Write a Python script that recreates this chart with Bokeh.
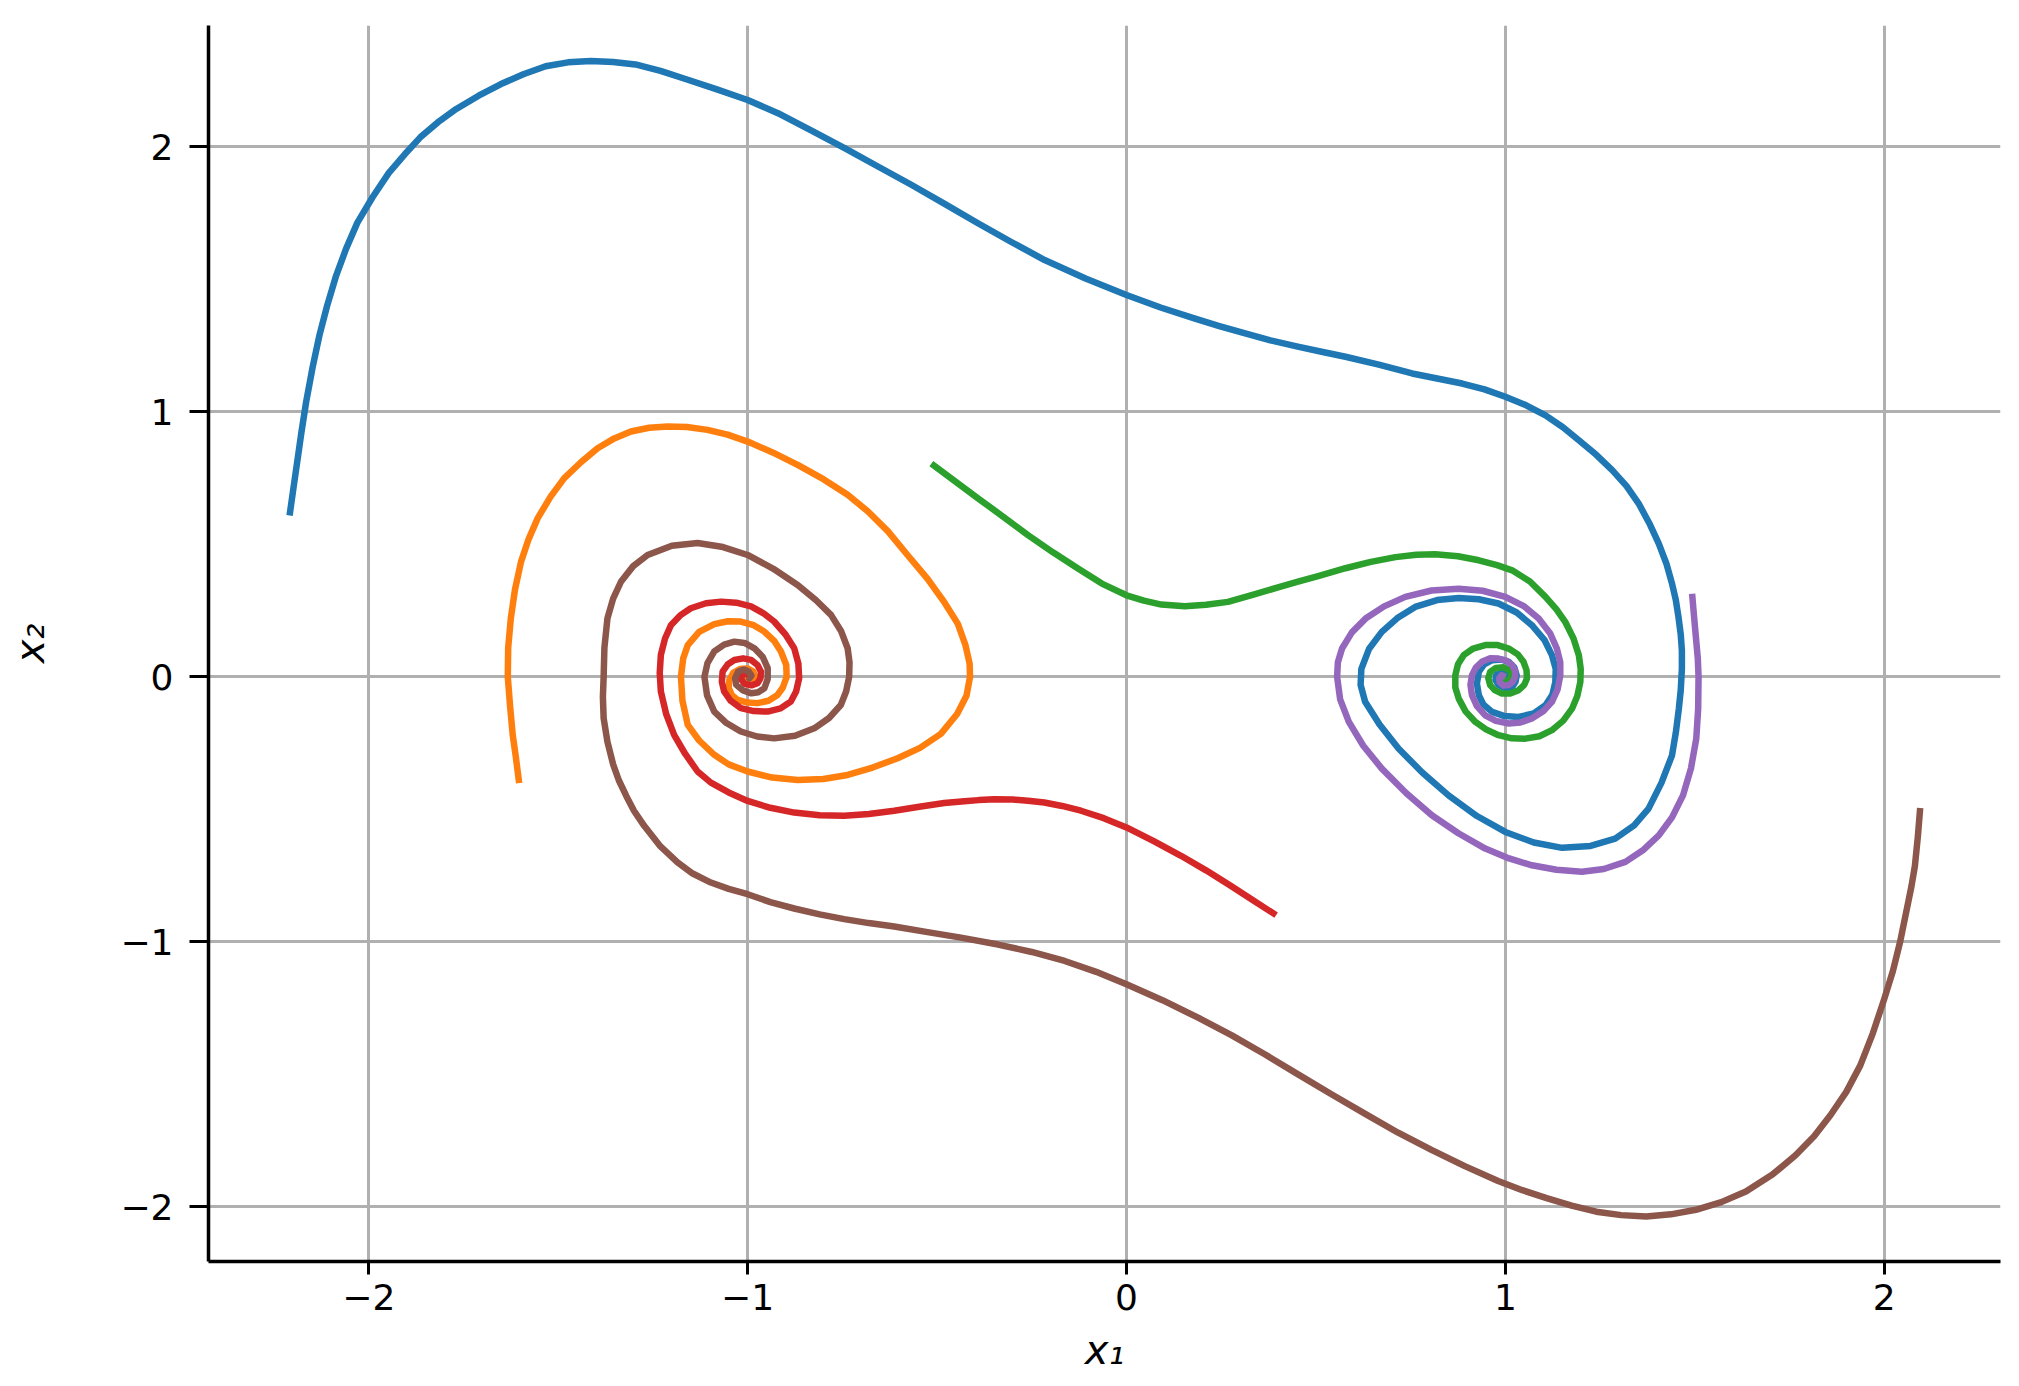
from bokeh.plotting import figure
from bokeh.models import Range1d, FixedTicker
from bokeh.embed import file_html
from bokeh.resources import INLINE

# ---- trajectories (x1, x2) ----
blue_x1 = [-2.209, -2.2, -2.19, -2.178, -2.165, -2.148, -2.13, -2.11, -2.087, -2.06, -2.03, -1.99, -1.947, -1.905,
           -1.864, -1.818, -1.769, -1.71, -1.651, -1.592, -1.533, -1.474, -1.414, -1.355, -1.296, -1.23, -1.166,
           -1.083, -1.0, -0.92, -0.83, -0.744, -0.656, -0.568, -0.48, -0.392, -0.304, -0.216, -0.108, 0.0, 0.09,
           0.179, 0.245, 0.311, 0.38, 0.452, 0.515, 0.578, 0.666, 0.754, 0.82, 0.886, 0.945, 1.0, 1.055, 1.106,
           1.152, 1.194, 1.24, 1.282, 1.32, 1.352, 1.38, 1.405, 1.425, 1.44, 1.45, 1.457, 1.463, 1.466, 1.466,
           1.463, 1.458, 1.45, 1.44, 1.412, 1.378, 1.34, 1.29, 1.225, 1.15, 1.075, 1.0, 0.925, 0.85, 0.78, 0.718,
           0.668, 0.63, 0.618, 0.62, 0.64, 0.674, 0.715, 0.762, 0.82, 0.877, 0.93, 0.982, 1.03, 1.07, 1.103, 1.123,
           1.133, 1.132, 1.124, 1.106, 1.075, 1.035, 0.998, 0.965, 0.942, 0.93, 0.925, 0.93, 0.944, 0.965, 0.988,
           1.009, 1.024, 1.03, 1.027, 1.018, 1.0, 0.982, 0.974, 0.976, 0.996, 1.006, 1.004]
blue_x2 = [0.609, 0.70, 0.80, 0.92, 1.04, 1.17, 1.29, 1.40, 1.51, 1.615, 1.714, 1.81, 1.902, 1.972,
           2.036, 2.092, 2.143, 2.193, 2.237, 2.274, 2.304, 2.319, 2.324, 2.32, 2.311, 2.287, 2.257,
           2.218, 2.177, 2.127, 2.06, 1.995, 1.926, 1.857, 1.785, 1.712, 1.641, 1.573, 1.503, 1.441, 1.394,
           1.353, 1.324, 1.297, 1.27, 1.246, 1.227, 1.208, 1.178, 1.145, 1.126, 1.107, 1.085, 1.057, 1.025, 0.987,
           0.942, 0.893, 0.838, 0.78, 0.72, 0.654, 0.58, 0.503, 0.428, 0.352, 0.29, 0.226, 0.16, 0.1, 0.03,
           -0.05, -0.12, -0.21, -0.296, -0.40, -0.497, -0.56, -0.61, -0.638, -0.645, -0.625, -0.585, -0.525, -0.447,
           -0.36, -0.27, -0.18, -0.094, -0.03, 0.03, 0.105, 0.17, 0.222, 0.264, 0.29, 0.298, 0.293, 0.277, 0.243,
           0.195, 0.14, 0.082, 0.03, -0.019, -0.068, -0.107, -0.138, -0.151, -0.148, -0.132, -0.104, -0.069, -0.025,
           0.019, 0.047, 0.063, 0.066, 0.057, 0.035, 0.006, -0.018, -0.038, -0.043, -0.031, -0.012, 0.008, 0.019,
           0.01, 0.0]

orange_x1 = [-1.603, -1.612, -1.62, -1.627, -1.633, -1.632, -1.625, -1.614, -1.598, -1.578, -1.554, -1.52, -1.484,
             -1.44, -1.396, -1.352, -1.308, -1.26, -1.211, -1.16, -1.106, -1.053, -1.0, -0.934, -0.868, -0.8,
             -0.736, -0.683, -0.63, -0.578, -0.525, -0.48, -0.445, -0.425, -0.414, -0.413, -0.422, -0.447, -0.49,
             -0.545, -0.604, -0.67, -0.736, -0.80, -0.868, -0.935, -1.0, -1.05, -1.088, -1.128, -1.158, -1.172,
             -1.176, -1.17, -1.158, -1.128, -1.088, -1.052, -1.018, -0.984, -0.956, -0.93, -0.912, -0.898, -0.897,
             -0.907, -0.921, -0.945, -0.974, -1.0, -1.026, -1.042, -1.05, -1.048, -1.038, -1.02, -1.0, -0.985,
             -0.98, -0.99, -1.005, -1.01, -1.0]
orange_x2 = [-0.401, -0.30, -0.219, -0.11, 0.0, 0.11, 0.221, 0.33, 0.435, 0.52, 0.599, 0.68, 0.75,
             0.81, 0.863, 0.9, 0.926, 0.94, 0.945, 0.943, 0.932, 0.914, 0.888, 0.847, 0.8, 0.746,
             0.687, 0.625, 0.55, 0.46, 0.37, 0.28, 0.2, 0.12, 0.05, 0.0, -0.07, -0.14, -0.215,
             -0.268, -0.307, -0.342, -0.37, -0.385, -0.389, -0.38, -0.357, -0.33, -0.294, -0.24, -0.181, -0.09,
             0.0, 0.07, 0.12, 0.17, 0.199, 0.21, 0.209, 0.195, 0.171, 0.136, 0.096, 0.045, 0.0,
             -0.04, -0.068, -0.09, -0.099, -0.097, -0.087, -0.068, -0.04, -0.01, 0.015, 0.03, 0.032, 0.02,
             0.0, -0.015, -0.012, 0.0, 0.005]

green_x1 = [-0.515, -0.453, -0.391, -0.325, -0.26, -0.194, -0.128, -0.065, 0.0, 0.046, 0.092, 0.154, 0.21, 0.268,
            0.335, 0.4, 0.455, 0.506, 0.578, 0.645, 0.71, 0.765, 0.815, 0.875, 0.93, 0.978, 1.018, 1.065, 1.106,
            1.135, 1.158, 1.18, 1.194, 1.199, 1.198, 1.19, 1.176, 1.153, 1.123, 1.09, 1.053, 1.017, 0.982, 0.949,
            0.921, 0.895, 0.877, 0.868, 0.868, 0.875, 0.89, 0.915, 0.947, 0.98, 1.009, 1.033, 1.048, 1.056, 1.057,
            1.05, 1.035, 1.013, 0.991, 0.972, 0.96, 0.955, 0.96, 0.975, 0.995, 1.012, 1.017, 1.01, 0.998, 0.99,
            0.996, 1.0]
green_x2 = [0.805, 0.739, 0.673, 0.604, 0.535, 0.47, 0.409, 0.352, 0.308, 0.288, 0.273, 0.267, 0.272, 0.283,
            0.31, 0.338, 0.36, 0.38, 0.41, 0.434, 0.452, 0.461, 0.463, 0.455, 0.44, 0.422, 0.402, 0.36, 0.302,
            0.255, 0.208, 0.145, 0.082, 0.03, -0.019, -0.072, -0.12, -0.165, -0.201, -0.224, -0.233, -0.232, -0.22,
            -0.198, -0.17, -0.13, -0.082, -0.04, 0.006, 0.048, 0.082, 0.107, 0.12, 0.12, 0.107, 0.085, 0.057, 0.025,
            -0.006, -0.03, -0.05, -0.063, -0.063, -0.05, -0.031, -0.005, 0.019, 0.034, 0.036, 0.025, 0.005, -0.012,
            -0.014, -0.004, 0.004, 0.0]

red_x1 = [0.395, 0.336, 0.276, 0.21, 0.144, 0.072, 0.0, -0.06, -0.12, -0.17, -0.217, -0.26, -0.3, -0.349, -0.39,
          -0.428, -0.481, -0.547, -0.613, -0.68, -0.745, -0.81, -0.877, -0.94, -1.0, -1.05, -1.097, -1.132, -1.165,
          -1.194, -1.215, -1.229, -1.232, -1.229, -1.218, -1.202, -1.178, -1.15, -1.11, -1.07, -1.03, -0.991,
          -0.958, -0.93, -0.9, -0.877, -0.866, -0.864, -0.872, -0.886, -0.913, -0.947, -0.984, -1.018, -1.045,
          -1.062, -1.068, -1.066, -1.052, -1.035, -1.012, -0.991, -0.974, -0.965, -0.966, -0.974, -0.99, -1.008,
          -1.018, -1.012, -1.0, -0.995]
red_x2 = [-0.899, -0.845, -0.789, -0.73, -0.675, -0.62, -0.568, -0.533, -0.505, -0.487, -0.474, -0.467, -0.463,
          -0.462, -0.465, -0.469, -0.476, -0.49, -0.505, -0.517, -0.524, -0.522, -0.512, -0.494, -0.468, -0.436,
          -0.399, -0.357, -0.29, -0.219, -0.14, -0.055, 0.015, 0.083, 0.145, 0.196, 0.232, 0.259, 0.278, 0.284,
          0.28, 0.266, 0.24, 0.209, 0.16, 0.108, 0.05, -0.005, -0.055, -0.093, -0.119, -0.131, -0.129, -0.118,
          -0.09, -0.055, -0.018, 0.02, 0.048, 0.064, 0.07, 0.064, 0.045, 0.02, -0.005, -0.024, -0.032, -0.026,
          -0.008, 0.01, 0.012, 0.0]

purple_x1 = [1.493, 1.498, 1.503, 1.508, 1.51, 1.509, 1.504, 1.49, 1.469, 1.44, 1.405, 1.365, 1.317, 1.26, 1.202,
             1.135, 1.07, 1.01, 0.947, 0.876, 0.806, 0.738, 0.674, 0.625, 0.587, 0.564, 0.556, 0.558, 0.569, 0.595,
             0.631, 0.68, 0.736, 0.805, 0.877, 0.94, 1.0, 1.05, 1.088, 1.118, 1.136, 1.145, 1.145, 1.138, 1.123,
             1.1, 1.07, 1.04, 1.009, 0.975, 0.947, 0.925, 0.912, 0.908, 0.912, 0.922, 0.938, 0.96, 0.982, 1.002,
             1.018, 1.026, 1.026, 1.02, 1.009, 0.995, 0.985, 0.984, 0.99, 1.0]
purple_x2 = [0.314, 0.23, 0.15, 0.07, 0.0, -0.12, -0.233, -0.345, -0.447, -0.53, -0.598, -0.652, -0.698, -0.725,
             -0.735, -0.728, -0.711, -0.685, -0.648, -0.59, -0.522, -0.438, -0.346, -0.26, -0.17, -0.085, 0.0,
             0.055, 0.107, 0.168, 0.22, 0.266, 0.302, 0.326, 0.333, 0.325, 0.302, 0.266, 0.22, 0.165, 0.107, 0.055,
             0.006, -0.047, -0.094, -0.13, -0.157, -0.172, -0.176, -0.166, -0.145, -0.11, -0.069, -0.03, 0.006,
             0.035, 0.057, 0.07, 0.069, 0.061, 0.044, 0.022, 0.0, -0.018, -0.031, -0.033, -0.02, -0.005, 0.006, 0.0]

brown_x1 = [2.095, 2.089, 2.081, 2.072, 2.062, 2.042, 2.023, 2.0, 1.97, 1.937, 1.9, 1.858, 1.815, 1.766, 1.705,
            1.635, 1.57, 1.503, 1.437, 1.372, 1.306, 1.24, 1.175, 1.109, 1.045, 0.981, 0.893, 0.805, 0.717, 0.629,
            0.541, 0.453, 0.365, 0.277, 0.189, 0.095, 0.0, -0.08, -0.163, -0.25, -0.339, -0.437, -0.525, -0.613,
            -0.68, -0.745, -0.81, -0.877, -0.94, -1.0, -1.05, -1.097, -1.145, -1.185, -1.23, -1.273, -1.3, -1.32,
            -1.34, -1.355, -1.37, -1.38, -1.382, -1.38, -1.378, -1.37, -1.355, -1.334, -1.302, -1.264, -1.2, -1.132,
            -1.065, -1.0, -0.932, -0.868, -0.82, -0.78, -0.753, -0.736, -0.731, -0.732, -0.74, -0.754, -0.785,
            -0.824, -0.875, -0.93, -0.975, -1.018, -1.058, -1.088, -1.107, -1.114, -1.106, -1.088, -1.062, -1.035,
            -1.008, -0.982, -0.96, -0.947, -0.947, -0.956, -0.972, -0.99, -1.012, -1.03, -1.033, -1.025, -1.01,
            -0.997, -0.99, -0.995, -1.0]
brown_x2 = [-0.495, -0.6, -0.714, -0.79, -0.86, -1.0, -1.11, -1.216, -1.345, -1.466, -1.566, -1.654, -1.733, -1.805,
            -1.878, -1.942, -1.982, -2.011, -2.028, -2.036, -2.031, -2.018, -1.995, -1.967, -1.937, -1.902, -1.846,
            -1.785, -1.72, -1.648, -1.575, -1.5, -1.424, -1.352, -1.286, -1.22, -1.16, -1.113, -1.072, -1.038,
            -1.01, -0.984, -0.963, -0.942, -0.929, -0.914, -0.896, -0.874, -0.85, -0.82, -0.8, -0.776, -0.742, -0.7,
            -0.64, -0.562, -0.505, -0.45, -0.39, -0.33, -0.245, -0.156, -0.075, 0.0, 0.11, 0.221, 0.295, 0.36,
            0.418, 0.46, 0.495, 0.505, 0.49, 0.46, 0.408, 0.347, 0.29, 0.234, 0.172, 0.108, 0.055, 0.0, -0.055,
            -0.106, -0.155, -0.194, -0.222, -0.232, -0.225, -0.206, -0.172, -0.131, -0.07, 0.0, 0.052, 0.096, 0.122,
            0.133, 0.128, 0.108, 0.075, 0.033, -0.008, -0.043, -0.058, -0.062, -0.051, -0.03, -0.005, 0.02, 0.028,
            0.02, 0.005, -0.005, 0.0]

tick_values = [-2, -1, 0, 1, 2]
tick_labels = {-2: "\u22122", -1: "\u22121", 0: "0", 1: "1", 2: "2"}

series = [
    (blue_x1, blue_x2, "#1f77b4"),
    (orange_x1, orange_x2, "#ff7f0e"),
    (green_x1, green_x2, "#2ca02c"),
    (red_x1, red_x2, "#d62728"),
    (purple_x1, purple_x2, "#9467bd"),
    (brown_x1, brown_x2, "#8c564b"),
]

p = figure(width=2003, height=1386, output_backend="svg", toolbar_location=None,
           x_range=Range1d(-2.423, 2.307), y_range=Range1d(-2.206, 2.458),
           min_border_left=208, min_border_right=3, min_border_top=25, min_border_bottom=125)
p.outline_line_color = None
p.background_fill_color = "white"
p.border_fill_color = "white"

for xs, ys, c in series:
    p.line(xs, ys, line_color=c, line_width=6.5, line_join="round")

for ax in (p.xaxis[0], p.yaxis[0]):
    ax.ticker = FixedTicker(ticks=tick_values)
    ax.major_label_overrides = tick_labels
    ax.minor_tick_line_color = None
    ax.axis_line_color = "black"
    ax.axis_line_width = 3.5
    ax.major_tick_line_color = "black"
    ax.major_tick_line_width = 3
    ax.major_tick_in = 0
    ax.major_label_text_font = "DejaVu Sans"
    ax.major_label_text_font_size = "36px"
    ax.major_label_text_color = "black"
    ax.axis_label_text_font = "DejaVu Sans"
    ax.axis_label_text_font_size = "40px"
    ax.axis_label_text_font_style = "italic"
    ax.axis_label_text_color = "black"

p.xaxis.axis_label = "x\u2081"
p.yaxis.axis_label = "x\u2082"
p.xaxis.major_tick_out = 13
p.yaxis.major_tick_out = 19
p.xaxis.major_label_standoff = 9
p.yaxis.major_label_standoff = 16
p.xaxis.axis_label_standoff = 14
p.yaxis.axis_label_standoff = 64

for g in (p.xgrid[0], p.ygrid[0]):
    g.ticker = FixedTicker(ticks=tick_values)
    g.grid_line_color = "#b0b0b0"
    g.grid_line_width = 3

open("out.html", "w").write(file_html(p, INLINE))
